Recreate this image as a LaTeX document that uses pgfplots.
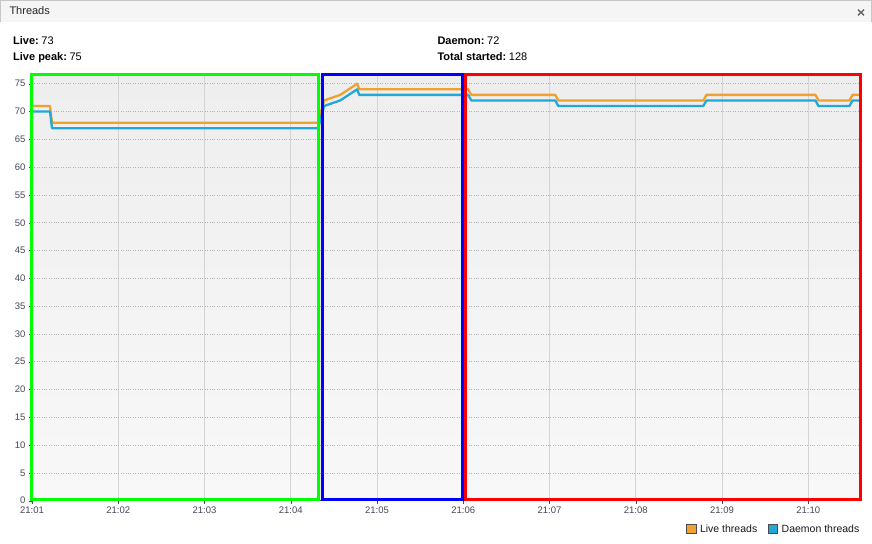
\documentclass[border=0pt]{standalone}
\usepackage{pgfplots}
\pgfplotsset{compat=1.18}
\usepackage{fontspec}
\setmainfont{Liberation Sans}
\definecolor{liveC}{RGB}{240,160,48}
\definecolor{daemC}{RGB}{32,168,216}
\definecolor{bgTop}{RGB}{238,238,238}
\definecolor{bgBot}{RGB}{248,248,248}
\definecolor{boxG}{RGB}{0,255,0}
\definecolor{boxB}{RGB}{0,0,255}
\definecolor{boxR}{RGB}{255,0,0}
\definecolor{tickC}{RGB}{70,72,90}
\begin{document}
\begin{tikzpicture}[x=1pt,y=1pt]
\path[use as bounding box, fill=white] (0,0) rectangle (872,543);
% title bar
\fill[black!4] (0,521) rectangle (872,543);
\draw[black!22, line width=1pt] (0.5,521) -- (0.5,542.5) -- (871.5,542.5) -- (871.5,521);
\node[anchor=base west, inner sep=0, font=\fontsize{11}{13}\selectfont, text=black!85] at (9.3,528) {Threads};
\draw[black!60, line width=1.4pt] (858,527.7) -- (864,533.3) (858,533.3) -- (864,527.7);
% header
\node[anchor=base west, inner sep=0, font=\fontsize{11}{13}\selectfont] at (13,498.7) {\textbf{Live:}\hspace{2.6pt}73};
\node[anchor=base west, inner sep=0, font=\fontsize{11}{13}\selectfont] at (13,482) {\textbf{Live peak:}\hspace{2.6pt}75};
\node[anchor=base west, inner sep=0, font=\fontsize{11}{13}\selectfont] at (437.3,498.7) {\textbf{Daemon:}\hspace{2.6pt}72};
\node[anchor=base west, inner sep=0, font=\fontsize{11}{13}\selectfont] at (437.3,482) {\textbf{Total started:}\hspace{2.6pt}128};
\begin{axis}[
  at={(32pt,42.3pt)}, anchor=south west,
  scale only axis, width=828pt, height=424.7pt,
  xmin=0, xmax=9.6, ymin=0, ymax=76.4,
  axis lines=left, axis line style={-, draw=black!70},
  xtick={0,1,2,3,4,5,6,7,8,9},
  xticklabels={21:01,21:02,21:03,21:04,21:05,21:06,21:07,21:08,21:09,21:10},
  ytick={0,5,...,75},
  tick align=outside, major tick length=3pt, tick style={black!70},
  xmajorgrids, ymajorgrids,
  x grid style={black!17, line width=0.8pt},
  y grid style={black!30, dotted, line width=0.8pt},
  tick label style={font=\fontsize{9.5}{10}\selectfont, text=tickC},
  /pgf/number format/assume math mode=true,
  axis background/.style={top color=bgTop, bottom color=bgBot},
  clip=true,
  legend style={at={(1.0012,-0.0666)}, anchor=east, draw=none, fill=none,
    legend columns=2, font=\fontsize{10.5}{12}\selectfont,
    /tikz/every even column/.append style={column sep=9pt},
    inner sep=0pt, nodes={inner sep=1.5pt, text=black!90}},
]
\addlegendimage{legend image code/.code={\path[draw=none,fill=none] (0pt,-4.5pt) rectangle (12pt,4.5pt); \draw[fill=liveC,draw=black!70,line width=0.8pt] (0pt,-4.5pt) rectangle (9.5pt,4.5pt);}}
\addlegendentry{Live threads}
\addlegendimage{legend image code/.code={\path[draw=none,fill=none] (0pt,-4.5pt) rectangle (12pt,4.5pt); \draw[fill=daemC,draw=black!70,line width=0.8pt] (0pt,-4.5pt) rectangle (9.5pt,4.5pt);}}
\addlegendentry{Daemon threads}
\addplot[liveC, line width=2.3pt, line join=round, forget plot] coordinates {
(0,71) (0.209,71) (0.232,68) (3.318,68) (3.387,72) (3.573,73) (3.770,75) (3.794,74)
(5.058,74) (5.093,73) (6.067,73) (6.102,72) (7.784,72) (7.819,73) (9.084,73) (9.118,72)
(9.478,72) (9.513,73) (9.6,73)};
\addplot[daemC, line width=2.3pt, line join=round, forget plot] coordinates {
(0,70) (0.209,70) (0.232,67) (3.318,67) (3.387,71) (3.573,72) (3.770,74) (3.794,73)
(5.058,73) (5.093,72) (6.067,72) (6.102,71) (7.784,71) (7.819,72) (9.084,72) (9.118,71)
(9.478,71) (9.513,72) (9.6,72)};
\end{axis}
% annotation boxes
\draw[boxG, line width=3pt] (31.7,43.8) rectangle (318.7,468.5);
\draw[boxB, line width=3pt] (322.5,43.8) rectangle (462,468.5);
\draw[boxR, line width=3pt] (465.3,43.8) rectangle (860,468.5);
\end{tikzpicture}
\end{document}
